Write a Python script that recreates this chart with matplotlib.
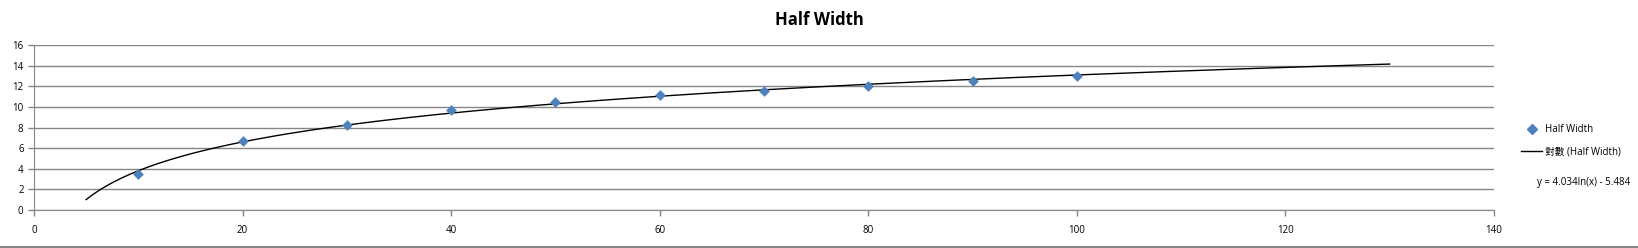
import numpy as np
import matplotlib
matplotlib.use("Agg")
import matplotlib.pyplot as plt
from matplotlib.lines import Line2D

plt.rcParams['font.family'] = ['Open Sans', 'Noto Sans CJK TC', 'DejaVu Sans']

# Data
x_vals = [10, 20, 30, 40, 50, 60, 70, 80, 90, 100]
half_width = [3.5, 6.7, 8.2, 9.7, 10.5, 11.2, 11.5, 12.0, 12.5, 13.0]
trend_range = [5, 130]
trend_coef = [4.034, -5.484]  # from the chart's equation label
title = "Half Width"
series_label = "Half Width"
trend_label = "對數 (Half Width)"
equation = "y = 4.034ln(x) - 5.484"
x_ticks = [0, 20, 40, 60, 80, 100, 120, 140]
y_ticks = [0, 2, 4, 6, 8, 10, 12, 14, 16]

W, H = 1638, 248
fig = plt.figure(figsize=(W / 100, H / 100), dpi=100)
ax = fig.add_axes([34 / W, 1 - 210 / H, (1494 - 34) / W, (210 - 45) / H])

gray = '#868686'
xt = np.linspace(trend_range[0], trend_range[1], 300)
yt = trend_coef[0] * np.log(xt) + trend_coef[1]
ax.plot(xt, yt, color='black', lw=1.0, zorder=3)
ax.scatter(x_vals, half_width, marker='D', s=30, color='#4F81BD', zorder=4, linewidths=0)

ax.set_xlim(0, 140)
ax.set_ylim(0, 16)
ax.set_xticks(x_ticks)
ax.set_yticks(y_ticks)
ax.grid(axis='y', color=gray, lw=1)
ax.set_axisbelow(True)
for s in ['top', 'right']:
    ax.spines[s].set_visible(False)
for s in ['left', 'bottom']:
    ax.spines[s].set_color(gray)
ax.tick_params(axis='both', colors=gray, labelcolor='black', labelsize=7, length=4, width=1)
ax.tick_params(axis='x', pad=7)

fig.text(0.5, 1 - 20 / H, title, ha='center', va='center', fontsize=12, fontweight='bold')

handles = [Line2D([], [], marker='D', color='#4F81BD', ls='none', markersize=5),
           Line2D([], [], color='black', lw=1.0)]
fig.legend(handles, [series_label, trend_label], loc='upper left',
           bbox_to_anchor=(1521 / W, 1 - 124 / H), frameon=False, fontsize=7,
           handlelength=2.2, handletextpad=0.3, labelspacing=1.15, borderpad=0, borderaxespad=0)
fig.text(1537 / W, 1 - 182 / H, equation, ha='left', va='center', fontsize=7)

fig.add_artist(Line2D([0, 1], [1.5 / H, 1.5 / H], transform=fig.transFigure, color=gray, lw=1.5))

fig.savefig('out.png', dpi=100)
